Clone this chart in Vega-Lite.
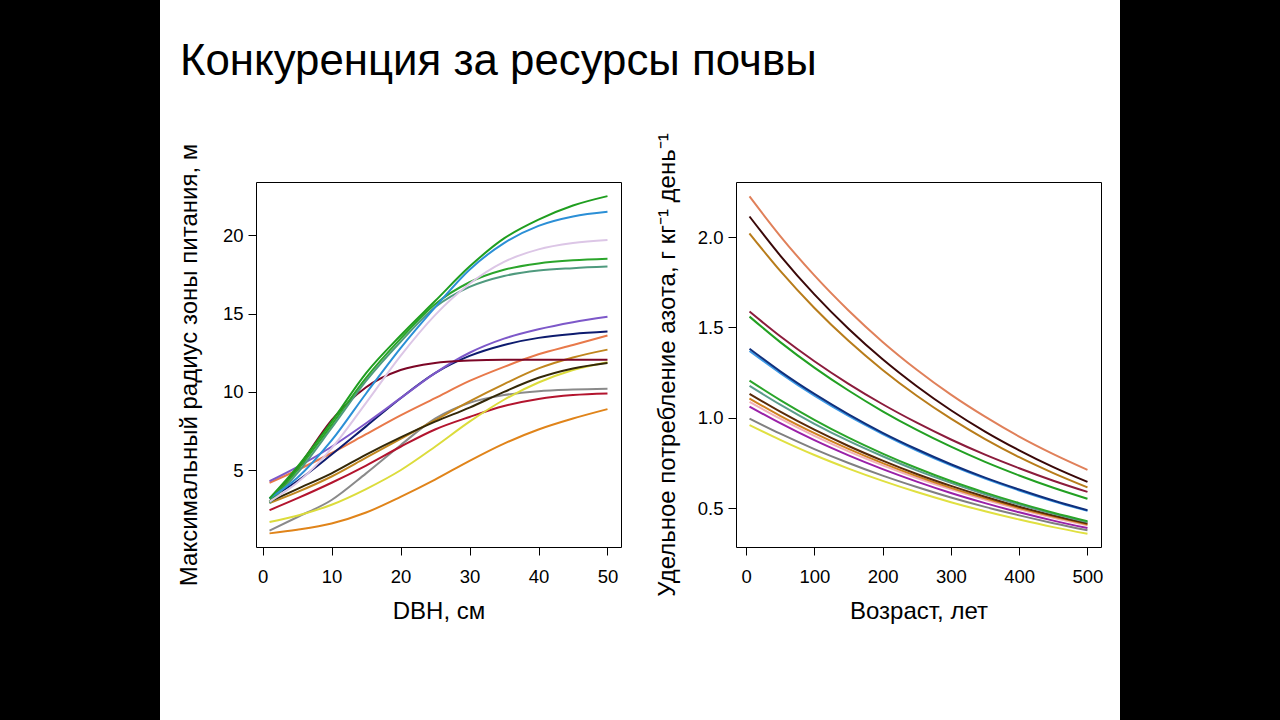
{
  "$schema": "https://vega.github.io/schema/vega-lite/v6.json",
  "padding": 0,
  "background": "white",
  "columns": 7,
  "spacing": 0,
  "bounds": "flush",
  "align": "each",
  "resolve": {"scale": {"color": "independent", "x": "independent", "y": "independent"}},
  "config": {
    "view": {"stroke": null},
    "font": "Liberation Sans",
    "axis": {"domain": false, "grid": false, "ticks": true, "tickColor": "black", "tickSize": 8, "tickWidth": 1, "labelColor": "black", "labelFontSize": 18.5, "labelFont": "Liberation Sans", "titleFont": "Liberation Sans", "titleFontSize": 24, "titleFontWeight": "normal", "titleColor": "black", "labelFlush": false, "labelOverlap": false},
    "axisX": {"labelPadding": 12, "titlePadding": 14},
    "axisY": {"labelPadding": 5}
  },
  "datasets": {
    "dbh": [
      {"s":"L13","x":1,"y":1.15},{"s":"L13","x":5,"y":2.0},{"s":"L13","x":10,"y":3.1},{"s":"L13","x":15,"y":4.8},{"s":"L13","x":20,"y":6.6},{"s":"L13","x":25,"y":8.3},{"s":"L13","x":30,"y":9.3},{"s":"L13","x":35,"y":9.8},{"s":"L13","x":40,"y":10.05},{"s":"L13","x":45,"y":10.15},{"s":"L13","x":50,"y":10.2},
      {"s":"L15","x":1,"y":0.97},{"s":"L15","x":5,"y":1.2},{"s":"L15","x":10,"y":1.6},{"s":"L15","x":15,"y":2.3},{"s":"L15","x":20,"y":3.3},{"s":"L15","x":25,"y":4.4},{"s":"L15","x":30,"y":5.6},{"s":"L15","x":35,"y":6.7},{"s":"L15","x":40,"y":7.6},{"s":"L15","x":45,"y":8.3},{"s":"L15","x":50,"y":8.9},
      {"s":"L14","x":1,"y":2.45},{"s":"L14","x":5,"y":3.2},{"s":"L14","x":10,"y":4.2},{"s":"L14","x":15,"y":5.3},{"s":"L14","x":20,"y":6.5},{"s":"L14","x":25,"y":7.6},{"s":"L14","x":30,"y":8.4},{"s":"L14","x":35,"y":9.1},{"s":"L14","x":40,"y":9.55},{"s":"L14","x":45,"y":9.8},{"s":"L14","x":50,"y":9.9},
      {"s":"L12","x":1,"y":1.7},{"s":"L12","x":5,"y":2.1},{"s":"L12","x":10,"y":2.8},{"s":"L12","x":15,"y":3.8},{"s":"L12","x":20,"y":5.0},{"s":"L12","x":25,"y":6.5},{"s":"L12","x":30,"y":8.1},{"s":"L12","x":35,"y":9.5},{"s":"L12","x":40,"y":10.6},{"s":"L12","x":45,"y":11.4},{"s":"L12","x":50,"y":11.9},
      {"s":"L10","x":1,"y":2.9},{"s":"L10","x":5,"y":3.6},{"s":"L10","x":10,"y":4.6},{"s":"L10","x":15,"y":5.8},{"s":"L10","x":20,"y":7.0},{"s":"L10","x":25,"y":8.2},{"s":"L10","x":30,"y":9.4},{"s":"L10","x":35,"y":10.5},{"s":"L10","x":40,"y":11.5},{"s":"L10","x":45,"y":12.2},{"s":"L10","x":50,"y":12.7},
      {"s":"L11","x":1,"y":3.0},{"s":"L11","x":5,"y":3.8},{"s":"L11","x":10,"y":4.8},{"s":"L11","x":15,"y":6.0},{"s":"L11","x":20,"y":7.1},{"s":"L11","x":25,"y":8.1},{"s":"L11","x":30,"y":9.0},{"s":"L11","x":35,"y":10.0},{"s":"L11","x":40,"y":10.9},{"s":"L11","x":45,"y":11.5},{"s":"L11","x":50,"y":11.85},
      {"s":"L8","x":1,"y":4.2},{"s":"L8","x":5,"y":5.0},{"s":"L8","x":10,"y":6.1},{"s":"L8","x":15,"y":7.3},{"s":"L8","x":20,"y":8.5},{"s":"L8","x":25,"y":9.6},{"s":"L8","x":30,"y":10.7},{"s":"L8","x":35,"y":11.6},{"s":"L8","x":40,"y":12.4},{"s":"L8","x":45,"y":13.0},{"s":"L8","x":50,"y":13.6},
      {"s":"L7","x":1,"y":3.2},{"s":"L7","x":5,"y":4.3},{"s":"L7","x":10,"y":6.0},{"s":"L7","x":15,"y":7.8},{"s":"L7","x":20,"y":9.6},{"s":"L7","x":25,"y":11.2},{"s":"L7","x":30,"y":12.3},{"s":"L7","x":35,"y":13.0},{"s":"L7","x":40,"y":13.45},{"s":"L7","x":45,"y":13.7},{"s":"L7","x":50,"y":13.85},
      {"s":"L6","x":1,"y":4.3},{"s":"L6","x":5,"y":5.2},{"s":"L6","x":10,"y":6.5},{"s":"L6","x":15,"y":8.0},{"s":"L6","x":20,"y":9.6},{"s":"L6","x":25,"y":11.2},{"s":"L6","x":30,"y":12.5},{"s":"L6","x":35,"y":13.4},{"s":"L6","x":40,"y":14.0},{"s":"L6","x":45,"y":14.45},{"s":"L6","x":50,"y":14.8},
      {"s":"L9","x":1,"y":3.0},{"s":"L9","x":5,"y":5.1},{"s":"L9","x":10,"y":8.2},{"s":"L9","x":15,"y":10.3},{"s":"L9","x":20,"y":11.4},{"s":"L9","x":25,"y":11.85},{"s":"L9","x":30,"y":12.0},{"s":"L9","x":35,"y":12.05},{"s":"L9","x":40,"y":12.05},{"s":"L9","x":45,"y":12.05},{"s":"L9","x":50,"y":12.05},
      {"s":"L5","x":1,"y":2.9},{"s":"L5","x":5,"y":4.8},{"s":"L5","x":10,"y":7.7},{"s":"L5","x":15,"y":10.7},{"s":"L5","x":20,"y":13.2},{"s":"L5","x":25,"y":15.4},{"s":"L5","x":30,"y":16.7},{"s":"L5","x":35,"y":17.4},{"s":"L5","x":40,"y":17.75},{"s":"L5","x":45,"y":17.9},{"s":"L5","x":50,"y":18.0},
      {"s":"L4","x":1,"y":3.0},{"s":"L4","x":5,"y":5.0},{"s":"L4","x":10,"y":7.9},{"s":"L4","x":15,"y":10.9},{"s":"L4","x":20,"y":13.4},{"s":"L4","x":25,"y":15.6},{"s":"L4","x":30,"y":17.0},{"s":"L4","x":35,"y":17.8},{"s":"L4","x":40,"y":18.2},{"s":"L4","x":45,"y":18.4},{"s":"L4","x":50,"y":18.5},
      {"s":"L3","x":1,"y":3.0},{"s":"L3","x":5,"y":4.2},{"s":"L3","x":10,"y":6.4},{"s":"L3","x":15,"y":9.3},{"s":"L3","x":20,"y":12.3},{"s":"L3","x":25,"y":14.9},{"s":"L3","x":30,"y":16.9},{"s":"L3","x":35,"y":18.3},{"s":"L3","x":40,"y":19.1},{"s":"L3","x":45,"y":19.5},{"s":"L3","x":50,"y":19.7},
      {"s":"L2","x":1,"y":3.2},{"s":"L2","x":5,"y":4.5},{"s":"L2","x":10,"y":6.9},{"s":"L2","x":15,"y":9.9},{"s":"L2","x":20,"y":12.8},{"s":"L2","x":25,"y":15.4},{"s":"L2","x":30,"y":17.8},{"s":"L2","x":35,"y":19.5},{"s":"L2","x":40,"y":20.6},{"s":"L2","x":45,"y":21.2},{"s":"L2","x":50,"y":21.5},
      {"s":"L1","x":1,"y":3.2},{"s":"L1","x":5,"y":5.2},{"s":"L1","x":10,"y":8.1},{"s":"L1","x":15,"y":11.2},{"s":"L1","x":20,"y":13.6},{"s":"L1","x":25,"y":15.8},{"s":"L1","x":30,"y":18.0},{"s":"L1","x":35,"y":19.8},{"s":"L1","x":40,"y":21.0},{"s":"L1","x":45,"y":21.9},{"s":"L1","x":50,"y":22.5}
    ],
    "age": [
      {"s":"R15","x":5,"y":0.96},{"s":"R15","x":50,"y":0.878},{"s":"R15","x":100,"y":0.794},{"s":"R15","x":150,"y":0.719},{"s":"R15","x":200,"y":0.651},{"s":"R15","x":250,"y":0.589},{"s":"R15","x":300,"y":0.533},{"s":"R15","x":350,"y":0.483},{"s":"R15","x":400,"y":0.437},{"s":"R15","x":450,"y":0.395},{"s":"R15","x":500,"y":0.358},
      {"s":"R14","x":5,"y":0.996},{"s":"R14","x":50,"y":0.912},{"s":"R14","x":100,"y":0.827},{"s":"R14","x":150,"y":0.75},{"s":"R14","x":200,"y":0.68},{"s":"R14","x":250,"y":0.617},{"s":"R14","x":300,"y":0.559},{"s":"R14","x":350,"y":0.507},{"s":"R14","x":400,"y":0.46},{"s":"R14","x":450,"y":0.417},{"s":"R14","x":500,"y":0.378},
      {"s":"R13","x":5,"y":1.062},{"s":"R13","x":50,"y":0.97},{"s":"R13","x":100,"y":0.876},{"s":"R13","x":150,"y":0.792},{"s":"R13","x":200,"y":0.716},{"s":"R13","x":250,"y":0.647},{"s":"R13","x":300,"y":0.584},{"s":"R13","x":350,"y":0.528},{"s":"R13","x":400,"y":0.477},{"s":"R13","x":450,"y":0.431},{"s":"R13","x":500,"y":0.39},
      {"s":"R12","x":5,"y":1.088},{"s":"R12","x":50,"y":0.995},{"s":"R12","x":100,"y":0.9},{"s":"R12","x":150,"y":0.814},{"s":"R12","x":200,"y":0.737},{"s":"R12","x":250,"y":0.667},{"s":"R12","x":300,"y":0.604},{"s":"R12","x":350,"y":0.546},{"s":"R12","x":400,"y":0.494},{"s":"R12","x":450,"y":0.447},{"s":"R12","x":500,"y":0.405},
      {"s":"R11","x":5,"y":1.107},{"s":"R11","x":50,"y":1.011},{"s":"R11","x":100,"y":0.915},{"s":"R11","x":150,"y":0.828},{"s":"R11","x":200,"y":0.749},{"s":"R11","x":250,"y":0.677},{"s":"R11","x":300,"y":0.612},{"s":"R11","x":350,"y":0.554},{"s":"R11","x":400,"y":0.501},{"s":"R11","x":450,"y":0.453},{"s":"R11","x":500,"y":0.41},
      {"s":"R10","x":5,"y":1.133},{"s":"R10","x":50,"y":1.034},{"s":"R10","x":100,"y":0.934},{"s":"R10","x":150,"y":0.844},{"s":"R10","x":200,"y":0.763},{"s":"R10","x":250,"y":0.689},{"s":"R10","x":300,"y":0.623},{"s":"R10","x":350,"y":0.563},{"s":"R10","x":400,"y":0.508},{"s":"R10","x":450,"y":0.459},{"s":"R10","x":500,"y":0.415},
      {"s":"R9","x":5,"y":1.177},{"s":"R9","x":50,"y":1.073},{"s":"R9","x":100,"y":0.967},{"s":"R9","x":150,"y":0.872},{"s":"R9","x":200,"y":0.787},{"s":"R9","x":250,"y":0.709},{"s":"R9","x":300,"y":0.64},{"s":"R9","x":350,"y":0.577},{"s":"R9","x":400,"y":0.52},{"s":"R9","x":450,"y":0.469},{"s":"R9","x":500,"y":0.423},
      {"s":"R8","x":5,"y":1.206},{"s":"R8","x":50,"y":1.098},{"s":"R8","x":100,"y":0.989},{"s":"R8","x":150,"y":0.89},{"s":"R8","x":200,"y":0.802},{"s":"R8","x":250,"y":0.722},{"s":"R8","x":300,"y":0.65},{"s":"R8","x":350,"y":0.586},{"s":"R8","x":400,"y":0.528},{"s":"R8","x":450,"y":0.475},{"s":"R8","x":500,"y":0.428},
      {"s":"R6","x":5,"y":1.37},{"s":"R6","x":50,"y":1.247},{"s":"R6","x":100,"y":1.122},{"s":"R6","x":150,"y":1.01},{"s":"R6","x":200,"y":0.91},{"s":"R6","x":250,"y":0.819},{"s":"R6","x":300,"y":0.737},{"s":"R6","x":350,"y":0.664},{"s":"R6","x":400,"y":0.598},{"s":"R6","x":450,"y":0.538},{"s":"R6","x":500,"y":0.485},
      {"s":"R7","x":5,"y":1.382},{"s":"R7","x":50,"y":1.257},{"s":"R7","x":100,"y":1.132},{"s":"R7","x":150,"y":1.019},{"s":"R7","x":200,"y":0.917},{"s":"R7","x":250,"y":0.826},{"s":"R7","x":300,"y":0.743},{"s":"R7","x":350,"y":0.669},{"s":"R7","x":400,"y":0.603},{"s":"R7","x":450,"y":0.542},{"s":"R7","x":500,"y":0.488},
      {"s":"R5","x":5,"y":1.56},{"s":"R5","x":50,"y":1.419},{"s":"R5","x":100,"y":1.278},{"s":"R5","x":150,"y":1.151},{"s":"R5","x":200,"y":1.036},{"s":"R5","x":250,"y":0.933},{"s":"R5","x":300,"y":0.84},{"s":"R5","x":350,"y":0.756},{"s":"R5","x":400,"y":0.681},{"s":"R5","x":450,"y":0.613},{"s":"R5","x":500,"y":0.552},
      {"s":"R4","x":5,"y":1.588},{"s":"R4","x":50,"y":1.451},{"s":"R4","x":100,"y":1.313},{"s":"R4","x":150,"y":1.188},{"s":"R4","x":200,"y":1.075},{"s":"R4","x":250,"y":0.973},{"s":"R4","x":300,"y":0.88},{"s":"R4","x":350,"y":0.796},{"s":"R4","x":400,"y":0.721},{"s":"R4","x":450,"y":0.652},{"s":"R4","x":500,"y":0.59},
      {"s":"R3","x":5,"y":2.02},{"s":"R3","x":50,"y":1.813},{"s":"R3","x":100,"y":1.608},{"s":"R3","x":150,"y":1.426},{"s":"R3","x":200,"y":1.265},{"s":"R3","x":250,"y":1.122},{"s":"R3","x":300,"y":0.995},{"s":"R3","x":350,"y":0.882},{"s":"R3","x":400,"y":0.782},{"s":"R3","x":450,"y":0.694},{"s":"R3","x":500,"y":0.615},
      {"s":"R2","x":5,"y":2.114},{"s":"R2","x":50,"y":1.898},{"s":"R2","x":100,"y":1.683},{"s":"R2","x":150,"y":1.493},{"s":"R2","x":200,"y":1.324},{"s":"R2","x":250,"y":1.175},{"s":"R2","x":300,"y":1.042},{"s":"R2","x":350,"y":0.924},{"s":"R2","x":400,"y":0.82},{"s":"R2","x":450,"y":0.727},{"s":"R2","x":500,"y":0.645},
      {"s":"R1","x":5,"y":2.225},{"s":"R1","x":50,"y":2.006},{"s":"R1","x":100,"y":1.788},{"s":"R1","x":150,"y":1.594},{"s":"R1","x":200,"y":1.42},{"s":"R1","x":250,"y":1.266},{"s":"R1","x":300,"y":1.128},{"s":"R1","x":350,"y":1.006},{"s":"R1","x":400,"y":0.896},{"s":"R1","x":450,"y":0.799},{"s":"R1","x":500,"y":0.712}
    ]
  },
  "concat": [
    {"width": 160, "height": 182, "view": {"fill": "black"}, "data": {"values": []}, "mark": "point"},
    {"width": 96, "height": 182, "data": {"values": []}, "mark": "point",
     "title": {"text": "Конкуренция за ресурсы почвы", "anchor": "start", "frame": "group", "orient": "top", "offset": -78, "baseline": "alphabetic", "dx": 20, "dy": 41, "fontSize": 43.8, "font": "Liberation Sans", "fontWeight": "normal", "color": "black", "limit": 2000}},
    {"width": 365, "height": 182, "data": {"values": []}, "mark": "point"},
    {"width": 115, "height": 182, "data": {"values": []}, "mark": "point"},
    {"width": 365, "height": 182, "data": {"values": []}, "mark": "point"},
    {"width": 19, "height": 182, "data": {"values": []}, "mark": "point"},
    {"width": 160, "height": 182, "view": {"fill": "black"}, "data": {"values": []}, "mark": "point"},

    {"width": 160, "height": 538, "view": {"fill": "black"}, "data": {"values": []}, "mark": "point"},
    {"width": 96, "height": 538, "data": {"values": []}, "mark": "point"},
    {
      "width": 365, "height": 365,
      "view": {"stroke": "black", "strokeWidth": 1},
      "data": {"name": "dbh"},
      "mark": {"type": "line", "strokeWidth": 2, "interpolate": "monotone", "clip": true},
      "encoding": {
        "x": {"field": "x", "type": "quantitative", "scale": {"domain": [-0.96, 51.96], "nice": false, "zero": false}, "axis": {"values": [0, 10, 20, 30, 40, 50], "title": "DBH, см"}},
        "y": {"field": "y", "type": "quantitative", "scale": {"domain": [0.1, 23.4], "nice": false, "zero": false}, "axis": {"values": [5, 10, 15, 20], "title": "Максимальный радиус зоны питания, м", "titlePadding": 21}},
        "color": {"field": "s", "type": "nominal", "legend": null, "scale": {
          "domain": ["L1","L2","L3","L4","L5","L6","L7","L8","L9","L10","L11","L12","L13","L14","L15"],
          "range": ["#1f9e1f","#2b8fd6","#dcc6e6","#2ba52b","#4f9a7e","#7d58c9","#0d1b6e","#e8794a","#7c0626","#c0861e","#332808","#dcdc3c","#8a8a8a","#b3142e","#e0841a"]}}
      }
    },
    {"width": 115, "height": 538, "data": {"values": []}, "mark": "point"},
    {
      "width": 365, "height": 365,
      "view": {"stroke": "black", "strokeWidth": 1},
      "data": {"name": "age"},
      "mark": {"type": "line", "strokeWidth": 2, "interpolate": "monotone", "clip": true},
      "encoding": {
        "x": {"field": "x", "type": "quantitative", "scale": {"domain": [-14.8, 519.8], "nice": false, "zero": false}, "axis": {"values": [0, 100, 200, 300, 400, 500], "title": "Возраст, лет"}},
        "y": {"field": "y", "type": "quantitative", "scale": {"domain": [0.285, 2.305], "nice": false, "zero": false}, "axis": {"values": [0.5, 1.0, 1.5, 2.0], "format": ".1f", "title": "Удельное потребление азота, г кг⁻¹ день⁻¹", "titlePadding": 18}},
        "color": {"field": "s", "type": "nominal", "legend": null, "scale": {
          "domain": ["R1","R2","R3","R4","R5","R6","R7","R8","R9","R10","R11","R12","R13","R14","R15"],
          "range": ["#e0805a","#3a0808","#b87c1a","#8b1c3c","#22a022","#3d9ae6","#10307c","#2aa52a","#5c9c8c","#5a2a08","#d08020","#f2b0b8","#9a20a8","#808080","#e0e040"]}}
      }
    },
    {"width": 19, "height": 538, "data": {"values": []}, "mark": "point"},
    {"width": 160, "height": 538, "view": {"fill": "black"}, "data": {"values": []}, "mark": "point"}
  ]
}
